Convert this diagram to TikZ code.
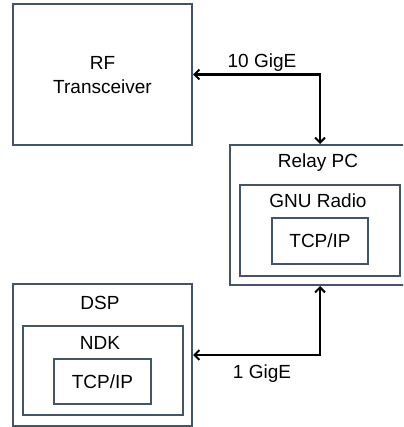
\documentclass[tikz,border=0pt]{standalone}
\usepackage{fontspec}
\setmainfont{Liberation Sans}
\usetikzlibrary{arrows.meta}
\definecolor{boxc}{RGB}{68,84,106}
\begin{document}
\begin{tikzpicture}[x=1pt,y=-1pt,
  box/.style={draw=boxc,line width=2pt,inner sep=0pt},
  txt/.style={font=\fontsize{19}{22.5}\selectfont,inner sep=0pt,text=black},
  link/.style={line width=2.4pt,{Straight Barb[length=5pt,width=10pt,line width=2pt]}-{Straight Barb[length=5pt,width=10pt,line width=2pt]}}]
\path[use as bounding box] (0,0) rectangle (403,427);
\clip (0,0) rectangle (403,427);
% RF transceiver
\node[box,minimum width=179pt,minimum height=141pt] (rf) at (102.5,74.5) {};
\node[txt,align=center] (rft) at (102.5,75) {RF\\[1pt]Transceiver};
% Relay PC
\node[box,minimum width=180pt,minimum height=140pt] (relay) at (320,215) {};
\node[txt] (relayt) at (318,163) {Relay PC};
\node[box,minimum width=160pt,minimum height=91pt] (gnu) at (320,230.5) {};
\node[txt] (gnut) at (318,201) {GNU Radio};
\node[box,minimum width=96pt,minimum height=46pt] (tcpa) at (320,241) {};
\node[txt] (tcpat) at (320,241) {TCP/IP};
% DSP
\node[box,minimum width=179pt,minimum height=142pt] (dsp) at (102.5,355) {};
\node[txt] (dspt) at (100,303) {DSP};
\node[box,minimum width=160pt,minimum height=89pt] (ndk) at (103,370.5) {};
\node[txt] (ndkt) at (100,343) {NDK};
\node[box,minimum width=97pt,minimum height=45pt] (tcpb) at (102.5,381.5) {};
\node[txt] (tcpbt) at (102.5,382) {TCP/IP};
% links
\draw[link] (rf.east) -| (relay.north);
\draw[link] (dsp.east) -| (relay.south);
\node[txt] (l10) at (262,63) {10 GigE};
\node[txt] (l1) at (262,374) {1 GigE};
\end{tikzpicture}
\end{document}
